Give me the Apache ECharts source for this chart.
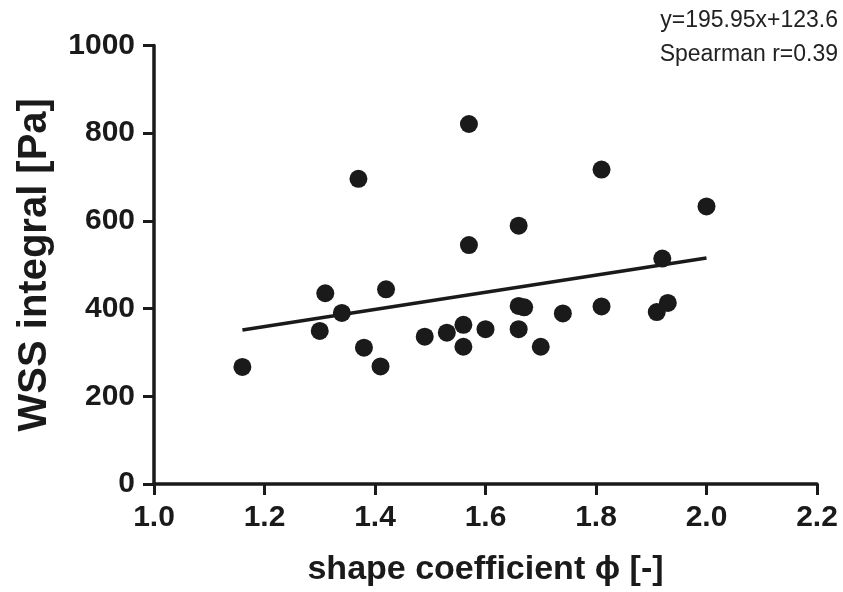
<!DOCTYPE html>
<html>
<head>
<meta charset="utf-8">
<script src="https://cdn.jsdelivr.net/npm/echarts@6/dist/echarts.min.js"></script>
<style>
html,body{margin:0;padding:0;background:#fff;}
#chart{width:843px;height:592px;}
</style>
</head>
<body>
<div id="chart"></div>
<script>
// Data
const shapeCoef = [1.16, 1.30, 1.31, 1.34, 1.37, 1.38, 1.41, 1.42, 1.49, 1.53, 1.56, 1.56, 1.57, 1.57, 1.60, 1.66, 1.66, 1.67, 1.66, 1.70, 1.74, 1.81, 1.81, 1.92, 1.91, 1.93, 2.00];
const wssIntegral = [267, 349, 435, 390, 696, 311, 268, 444, 336, 345, 363, 313, 821, 545, 353, 589, 406, 403, 353, 313, 389, 717, 405, 514, 392, 413, 633];
const fitX = [1.16, 2.00];
const fitY = [351, 515.5];
const xTicks = ['1.0','1.2','1.4','1.6','1.8','2.0','2.2'];
const yTicks = ['0','200','400','600','800','1000'];
const annotation = ['y=195.95x+123.6', 'Spearman r=0.39'];

const points = shapeCoef.map((x, i) => [x, wssIntegral[i]]);
const fitLine = fitX.map((x, i) => [x, fitY[i]]);

const chart = echarts.init(document.getElementById('chart'), null, {renderer: 'canvas'});
const font = '"Liberation Sans", Arial, sans-serif';
const ink = '#1a1a1a';

chart.setOption({
  backgroundColor: '#ffffff',
  animation: false,
  grid: {left: 154, right: 26, top: 45.5, bottom: 107, containLabel: false},
  xAxis: {
    type: 'value', min: 1.0, max: 2.2, interval: 0.2,
    name: 'shape coefficient \u03d5 [-]',
    nameLocation: 'middle', nameGap: 69,
    nameTextStyle: {fontFamily: font, fontWeight: 'bold', fontSize: 34, color: ink},
    axisLine: {show: true, onZero: false, lineStyle: {color: ink, width: 3.5}},
    axisTick: {show: true, length: 11, lineStyle: {color: ink, width: 3}},
    axisLabel: {margin: 19, fontFamily: font, fontWeight: 'bold', fontSize: 30, color: ink,
      formatter: (v) => xTicks[Math.round((v - 1.0) / 0.2)]},
    splitLine: {show: false}
  },
  yAxis: {
    type: 'value', min: 0, max: 1000, interval: 200,
    name: 'WSS integral [Pa]',
    nameLocation: 'middle', nameGap: 99, nameRotate: 90,
    nameTextStyle: {fontFamily: font, fontWeight: 'bold', fontSize: 40, color: ink},
    axisLine: {show: true, onZero: false, lineStyle: {color: ink, width: 3.5}},
    axisTick: {show: true, length: 11, lineStyle: {color: ink, width: 3}},
    axisLabel: {margin: 19, fontFamily: font, fontWeight: 'bold', fontSize: 30, color: ink,
      formatter: (v) => yTicks[Math.round(v / 200)]},
    splitLine: {show: false}
  },
  series: [
    {
      type: 'scatter', data: points, symbol: 'circle', symbolSize: 18,
      itemStyle: {color: ink, opacity: 1}, z: 3
    },
    {
      type: 'line', data: fitLine, symbol: 'none',
      lineStyle: {color: ink, width: 3.5}, z: 2
    }
  ],
  graphic: [
    {type: 'text', right: 5, top: 4,
     style: {text: annotation.join('\n'), fontFamily: font, fontSize: 23, lineHeight: 34,
       fill: '#222', textAlign: 'right'}}
  ]
});
</script>
</body>
</html>
